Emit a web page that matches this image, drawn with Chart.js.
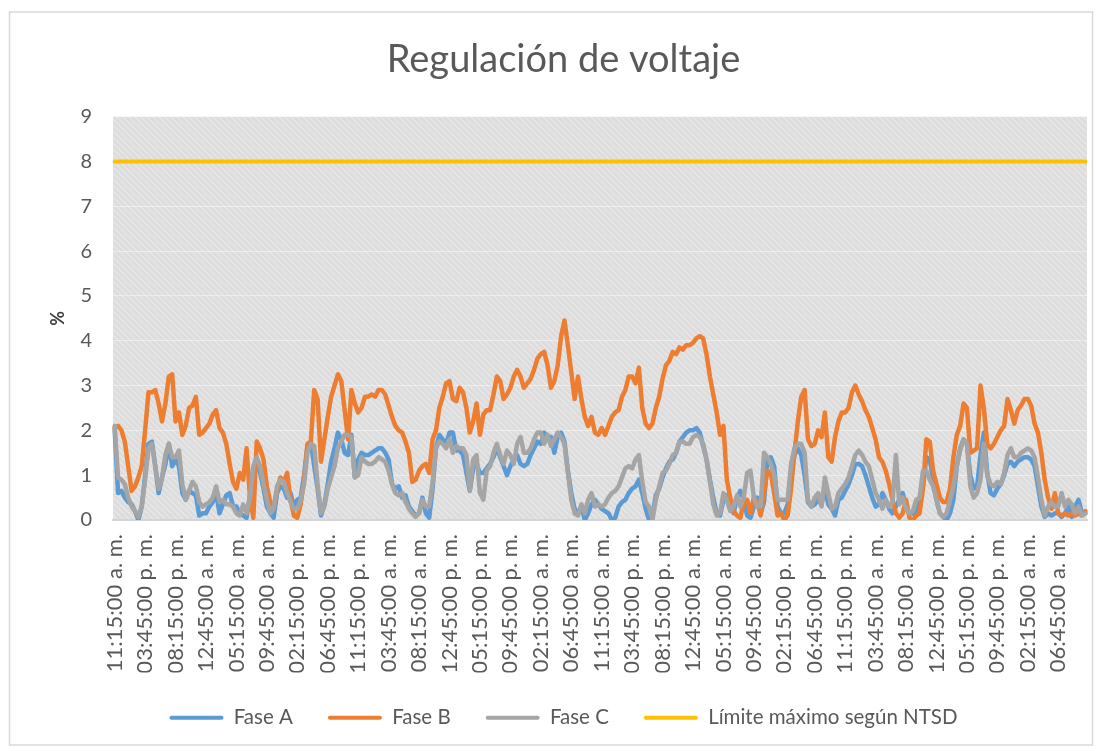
<!DOCTYPE html>
<html>
<head>
<meta charset="utf-8">
<script src="https://cdn.jsdelivr.net/npm/chart.js@4.4.1/dist/chart.umd.min.js"></script>
<style>
  html, body { margin: 0; padding: 0; background: #ffffff; }
  #wrap { width: 1102px; height: 748px; }
</style>
</head>
<body>
<div id="wrap"><canvas id="c" width="1102" height="748"></canvas></div>
<script>
// Half-hourly readings starting at 11:15 a. m.
const startMinutes = 11 * 60 + 15;
const stepMinutes = 30;
const tickEvery = 9;              // one label every 4.5 h
const limitValue = 8;             // NTSD maximum, %

const faseA = [
  2.0, 0.6, 0.65, 0.5, 0.4, 0.35, 0.2, 0.0, 0.3, 1.0,
  1.7, 1.75, 1.2, 0.6, 0.95, 1.25, 1.7, 1.2, 1.35, 1.2,
  0.6, 0.45, 0.65, 0.6, 0.55, 0.1, 0.15, 0.15, 0.3, 0.4,
  0.6, 0.15, 0.35, 0.55, 0.6, 0.3, 0.3, 0.15, 0.1, 0.05,
  0.55, 1.15, 1.35, 1.05, 0.7, 0.3, 0.15, 0.05, 0.6, 0.75,
  0.7, 0.5, 0.6, 0.3, 0.45, 0.5, 1.0, 1.65, 1.75, 1.2,
  0.7, 0.1, 0.35, 0.8, 1.3, 1.6, 1.95, 1.8, 1.5, 1.45,
  1.9, 0.95, 1.35, 1.5, 1.45, 1.45, 1.5, 1.55, 1.6, 1.6,
  1.5, 1.35, 0.8, 0.7, 0.75, 0.5, 0.55, 0.3, 0.2, 0.1,
  0.15, 0.5, 0.15, 0.05, 0.7, 1.6, 1.9, 1.8, 1.7, 1.95,
  1.95, 1.55, 1.55, 1.45, 1.05, 0.65, 1.15, 1.25, 1.05, 1.05,
  1.15, 1.25, 1.4, 1.6, 1.4, 1.2, 1.0, 1.2, 1.35, 1.45,
  1.25, 1.2, 1.25, 1.45, 1.6, 1.75, 1.7, 1.95, 1.85, 1.85,
  1.5, 1.85, 1.95, 1.75, 1.1, 0.6, 0.25, 0.15, 0.3, 0.0,
  0.15, 0.35, 0.45, 0.35, 0.25, 0.2, 0.15, 0.0, 0.05, 0.3,
  0.4, 0.45, 0.6, 0.7, 0.75, 0.9, 0.6, 0.25, 0.0, 0.1,
  0.55, 0.7, 0.95, 1.15, 1.3, 1.35, 1.5, 1.75, 1.85, 1.95,
  2.0, 2.0, 2.05, 1.95, 1.65, 1.35, 0.9, 0.5, 0.15, 0.1,
  0.45, 0.55, 0.35, 0.15, 0.5, 0.65, 0.45, 0.1, 0.05, 0.3,
  0.5, 0.15, 0.4, 1.35, 1.4, 1.2, 0.3, 0.15, 0.15, 0.35,
  1.1, 1.45, 1.6, 1.45, 1.0, 0.4, 0.3, 0.35, 0.45, 0.35,
  0.7, 0.35, 0.25, 0.1, 0.45, 0.5, 0.65, 0.8, 1.0, 1.25,
  1.25, 1.2, 1.0, 0.75, 0.5, 0.3, 0.35, 0.6, 0.45, 0.25,
  0.15, 0.3, 0.45, 0.6, 0.3, 0.15, 0.15, 0.1, 0.45, 0.75,
  1.4, 1.35, 0.9, 0.45, 0.15, 0.07, 0.0, 0.15, 0.45, 1.2,
  1.6, 1.8, 1.7, 1.0, 0.7, 0.75, 1.45, 1.95, 1.05, 0.6,
  0.55, 0.7, 0.8, 1.0, 1.25, 1.3, 1.2, 1.3, 1.35, 1.4,
  1.4, 1.35, 1.2, 0.75, 0.3, 0.07, 0.15, 0.1, 0.15, 0.15,
  0.07, 0.15, 0.3, 0.07, 0.3, 0.45, 0.15, 0.15
];

const faseB = [
  2.05, 2.1, 2.0, 1.75, 1.2, 0.65, 0.75, 0.95, 1.2, 2.0,
  2.85, 2.85, 2.9, 2.6, 2.2, 2.6, 3.2, 3.25, 2.2, 2.4,
  1.9, 2.1, 2.5, 2.55, 2.75, 1.9, 1.95, 2.05, 2.15, 2.35,
  2.45, 2.05, 1.95, 1.7, 1.25, 0.85, 0.7, 1.05, 0.9, 1.6,
  0.5, 0.05, 1.75, 1.6, 1.35, 0.75, 0.4, 0.3, 0.65, 0.95,
  0.85, 1.05, 0.45, 0.1, 0.05, 0.35, 0.9, 1.7, 1.75, 2.9,
  2.7, 1.3, 1.8, 2.3, 2.75, 3.0, 3.25, 3.1, 2.45, 1.8,
  2.9, 2.6, 2.4, 2.5, 2.75, 2.75, 2.8, 2.75, 2.9, 2.9,
  2.8, 2.55, 2.3, 2.1, 2.0, 1.95, 1.75, 1.5, 0.85, 0.9,
  1.1, 1.2, 1.25, 1.05, 1.8, 2.0, 2.5, 2.75, 3.05, 3.1,
  2.7, 2.65, 2.95, 2.85, 2.5, 1.95, 2.2, 2.6, 1.9, 2.35,
  2.45, 2.45, 2.8, 3.2, 3.1, 2.7, 2.8, 2.95, 3.2, 3.35,
  3.2, 2.95, 3.05, 3.15, 3.35, 3.6, 3.7, 3.75, 3.45, 2.95,
  3.1, 3.45, 4.1, 4.45, 3.9, 3.3, 2.7, 3.2, 2.7, 2.3,
  2.1, 2.3, 1.95, 1.9, 2.05, 1.9, 2.1, 2.3, 2.4, 2.45,
  2.75, 2.9, 3.2, 3.2, 3.05, 3.4, 2.5, 2.15, 2.05, 2.15,
  2.5, 2.75, 3.15, 3.45, 3.55, 3.75, 3.7, 3.85, 3.8, 3.9,
  3.9, 3.95, 4.05, 4.1, 4.05, 3.7, 3.2, 2.8, 2.4, 1.9,
  2.1, 0.9, 0.5, 0.2, 0.1, 0.05, 0.4, 0.45, 0.15, 0.5,
  0.4, 0.1, 0.6, 1.1, 1.05, 0.6, 0.1, 0.15, 0.0, 0.1,
  0.7, 1.5, 2.2, 2.75, 2.9, 1.8, 1.65, 1.7, 2.0, 1.85,
  2.4, 1.4, 1.3, 1.85, 2.2, 2.4, 2.4, 2.5, 2.85, 3.0,
  2.8, 2.65, 2.45, 2.3, 2.05, 1.8, 1.4, 1.3, 1.1, 0.8,
  0.45, 0.15, 0.05, 0.15, 0.45, 0.05, 0.0, 0.1, 0.15, 0.7,
  1.8, 1.75, 1.1, 0.8, 0.5, 0.4, 0.4, 0.7, 1.4, 1.9,
  2.1, 2.6, 2.5, 1.5, 1.55, 1.6, 3.0, 2.5, 1.7, 1.6,
  1.7, 1.85, 2.0, 2.1, 2.7, 2.45, 2.15, 2.45, 2.55, 2.7,
  2.7, 2.55, 2.15, 1.95, 1.5, 0.9, 0.5, 0.25, 0.6, 0.15,
  0.1, 0.15, 0.1, 0.15, 0.1, 0.15, 0.1, 0.2
];

const faseC = [
  2.1, 0.95, 0.9, 0.8, 0.5, 0.3, 0.2, 0.07, 0.3, 0.9,
  1.6, 1.7, 1.2, 0.7, 0.95, 1.45, 1.7, 1.4, 1.4, 1.55,
  0.8, 0.45, 0.65, 0.85, 0.75, 0.4, 0.3, 0.35, 0.4, 0.5,
  0.75, 0.4, 0.45, 0.35, 0.35, 0.3, 0.15, 0.1, 0.35, 0.15,
  0.5, 1.2, 1.4, 1.2, 0.8, 0.45, 0.15, 0.25, 0.75, 0.9,
  0.85, 0.6, 0.4, 0.25, 0.25, 0.45, 0.8, 1.5, 1.7, 1.65,
  0.8, 0.15, 0.3, 0.7, 0.95, 1.2, 1.6, 1.75, 1.9, 1.9,
  1.85, 0.95, 1.0, 1.4, 1.3, 1.25, 1.25, 1.3, 1.4, 1.35,
  1.3, 1.1, 0.8, 0.6, 0.55, 0.6, 0.4, 0.25, 0.15, 0.07,
  0.15, 0.45, 0.3, 0.3, 0.85, 1.6, 1.75, 1.7, 1.6, 1.8,
  1.5, 1.65, 1.6, 1.6, 1.45, 0.65, 1.35, 1.45, 0.6, 0.45,
  1.1, 1.2, 1.5, 1.7, 1.45, 1.25, 1.55, 1.45, 1.25, 1.7,
  1.85, 1.5, 1.5, 1.6, 1.8, 1.95, 1.95, 1.7, 1.9, 1.65,
  1.8, 1.95, 1.85, 1.7, 1.05, 0.45, 0.15, 0.1, 0.35, 0.15,
  0.45, 0.6, 0.3, 0.35, 0.3, 0.35, 0.5, 0.6, 0.65, 0.75,
  0.95, 1.15, 1.2, 1.15, 1.35, 1.45, 0.85, 0.4, 0.3, 0.0,
  0.45, 0.75, 1.05, 1.1, 1.25, 1.45, 1.5, 1.75, 1.75, 1.7,
  1.7, 1.85, 1.9, 1.85, 1.7, 1.35, 0.85, 0.35, 0.1, 0.15,
  0.6, 0.45, 0.2, 0.3, 0.55, 0.3, 0.5, 1.05, 1.1, 0.5,
  0.3, 0.3, 1.5, 1.4, 1.25, 1.0, 0.45, 0.45, 0.45, 0.45,
  1.25, 1.6, 1.7, 1.7, 1.5, 0.45, 0.3, 0.5, 0.6, 0.3,
  0.95, 0.6, 0.25, 0.3, 0.6, 0.7, 0.8, 0.95, 1.2, 1.45,
  1.55, 1.45, 1.3, 1.2, 0.9, 0.6, 0.45, 0.25, 0.45, 0.3,
  0.4, 1.45, 0.35, 0.5, 0.25, 0.15, 0.2, 0.45, 0.5, 1.1,
  1.1, 0.9, 0.75, 0.45, 0.15, 0.07, 0.15, 0.45, 0.75, 1.2,
  1.55, 1.8, 1.7, 0.75, 0.5, 0.6, 0.9, 1.7, 1.0, 0.8,
  0.75, 0.85, 0.8, 1.05, 1.45, 1.6, 1.4, 1.4, 1.5, 1.55,
  1.6, 1.55, 1.4, 0.95, 0.45, 0.1, 0.3, 0.4, 0.3, 0.3,
  0.6, 0.3, 0.45, 0.35, 0.15, 0.3, 0.1, 0.15
];

// "hh:mm:00 a. m." style timestamps for each reading
function formatTime(totalMinutes) {
  const m = totalMinutes % (24 * 60);
  const h24 = Math.floor(m / 60);
  const mm = m % 60;
  const h12 = h24 % 12 === 0 ? 12 : h24 % 12;
  const pad = n => String(n).padStart(2, '0');
  return pad(h12) + ':' + pad(mm) + ':00 ' + (h24 < 12 ? 'a. m.' : 'p. m.');
}
const categories = faseA.map((_, i) => formatTime(startMinutes + i * stepMinutes));
const limite = categories.map(() => limitValue);

const FONT = 'Lato, Carlito, Calibri, "Open Sans", sans-serif';
const TEXT = '#595959';

const canvas = document.getElementById('c');
const ctx = canvas.getContext('2d');

function makeHatch() {
  const p = document.createElement('canvas');
  p.width = 6; p.height = 6;
  const g = p.getContext('2d');
  g.fillStyle = '#dcdcdc';
  g.fillRect(0, 0, 6, 6);
  g.strokeStyle = '#e6e6e6';
  g.lineWidth = 1.6;
  g.beginPath();
  g.moveTo(-1, -1); g.lineTo(7, 7);
  g.moveTo(-1, 5); g.lineTo(1, 7);
  g.moveTo(5, -1); g.lineTo(7, 1);
  g.stroke();
  return ctx.createPattern(p, 'repeat');
}
const hatch = makeHatch();

const backdrop = {
  id: 'backdrop',
  beforeDraw(chart) {
    const c = chart.ctx;
    const a = chart.chartArea;
    c.save();
    c.fillStyle = '#ffffff';
    c.fillRect(0, 0, chart.width, chart.height);
    c.strokeStyle = '#d9d9d9';
    c.lineWidth = 1.5;
    c.strokeRect(9.5, 12, 1083, 733);
    c.fillStyle = hatch;
    c.fillRect(a.left, a.top, a.right - a.left, a.bottom - a.top);
    c.restore();
  }
};

function lineSet(label, data, color, order, width) {
  return {
    label, data,
    borderColor: color, backgroundColor: color,
    borderWidth: width, pointRadius: 0, pointHoverRadius: 0,
    tension: 0, borderJoinStyle: 'round', borderCapStyle: 'round',
    order
  };
}

new Chart(ctx, {
  type: 'line',
  data: {
    labels: categories,
    datasets: [
      lineSet('Fase A', faseA, '#5b9bd5', 4, 4.5),
      lineSet('Fase B', faseB, '#ed7d31', 3, 4.5),
      lineSet('Fase C', faseC, '#a5a5a5', 2, 4.5),
      lineSet('Límite máximo según NTSD', limite, '#ffc000', 1, 4)
    ]
  },
  plugins: [backdrop],
  options: {
    responsive: false,
    animation: false,
    events: [],
    layout: { padding: { left: 40, right: 15, top: 0, bottom: 10 } },
    scales: {
      x: {
        type: 'category',
        offset: true,
        grid: { display: false, drawTicks: false },
        border: { display: true, color: '#d4d4d4', width: 2 },
        ticks: {
          autoSkip: false, minRotation: 90, maxRotation: 90, padding: 14,
          color: TEXT, font: { family: FONT, size: 22 },
          callback(value, index) {
            return index % tickEvery === 0 ? this.getLabelForValue(value) : '';
          }
        },
        afterFit(scale) {
          scale.height = 152.5;
          scale.paddingLeft = 0;
          scale.paddingRight = 0;
        }
      },
      y: {
        min: 0, max: 9,
        grid: { color: 'rgba(255,255,255,0.45)', lineWidth: 1, drawTicks: false },
        border: { display: false },
        ticks: { stepSize: 1, padding: 21, color: TEXT, font: { family: FONT, size: 20 } },
        title: {
          display: true, text: '%', color: '#404040',
          font: { family: FONT, size: 18, weight: 'bold' },
          padding: { top: 7, bottom: 0 }
        },
        afterFit(scale) { scale.width = 73; }
      }
    },
    plugins: {
      title: {
        display: true, text: 'Regulación de voltaje', color: TEXT,
        font: { family: FONT, size: 38, weight: 'normal' },
        padding: { top: 37, bottom: 34 }
      },
      legend: {
        position: 'bottom',
        labels: {
          boxWidth: 54, boxHeight: 4, padding: 35,
          color: TEXT, font: { family: FONT, size: 20.5 },
          useBorderRadius: true, borderRadius: 2,
          sort: (a, b) => a.datasetIndex - b.datasetIndex,
          generateLabels(chart) {
            const items = Chart.defaults.plugins.legend.labels.generateLabels(chart);
            items.forEach(it => { it.fillStyle = it.strokeStyle; it.lineWidth = 0; });
            return items;
          }
        }
      },
      tooltip: { enabled: false }
    }
  }
});
</script>
</body>
</html>
